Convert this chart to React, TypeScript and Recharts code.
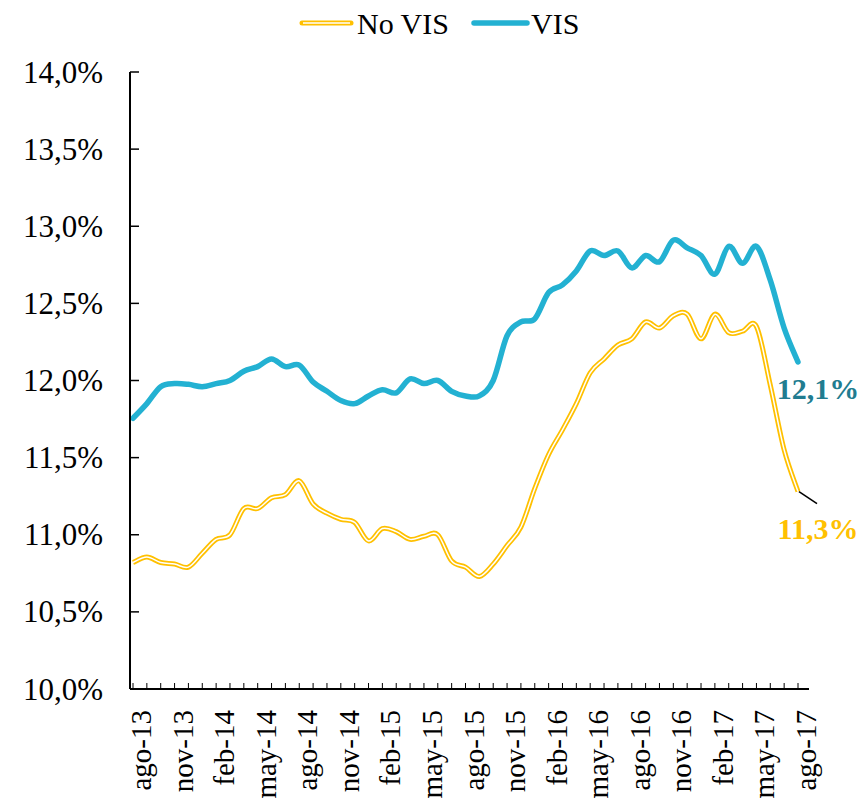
import React from 'react';
import { LineChart, Line, XAxis, YAxis } from 'recharts';

// meses (ago-13 .. ago-17)
const MONTHS = [
  'ago-13', 'sep-13', 'oct-13', 'nov-13', 'dic-13', 'ene-14', 'feb-14', 'mar-14', 'abr-14', 'may-14',
  'jun-14', 'jul-14', 'ago-14', 'sep-14', 'oct-14', 'nov-14', 'dic-14', 'ene-15', 'feb-15', 'mar-15',
  'abr-15', 'may-15', 'jun-15', 'jul-15', 'ago-15', 'sep-15', 'oct-15', 'nov-15', 'dic-15', 'ene-16',
  'feb-16', 'mar-16', 'abr-16', 'may-16', 'jun-16', 'jul-16', 'ago-16', 'sep-16', 'oct-16', 'nov-16',
  'dic-16', 'ene-17', 'feb-17', 'mar-17', 'abr-17', 'may-17', 'jun-17', 'jul-17', 'ago-17',
];

const NO_VIS = [
  10.82, 10.855, 10.82, 10.81, 10.79, 10.88, 10.97, 11.0, 11.17, 11.17,
  11.24, 11.26, 11.35, 11.2, 11.14, 11.1, 11.08, 10.96, 11.04, 11.02,
  10.97, 10.99, 11.0, 10.83, 10.79, 10.73, 10.81, 10.93, 11.05, 11.3,
  11.52, 11.68, 11.85, 12.05, 12.14, 12.23, 12.27, 12.38, 12.34, 12.42,
  12.43, 12.27, 12.43, 12.31, 12.32, 12.35, 11.97, 11.55, 11.28,
];

const VIS = [
  11.755, 11.85, 11.96, 11.98, 11.975, 11.96, 11.98, 12.0, 12.06, 12.09,
  12.14, 12.09, 12.1, 11.99, 11.93, 11.87, 11.85, 11.9, 11.94, 11.92,
  12.01, 11.98, 12.0, 11.93, 11.9, 11.9, 12.0, 12.29, 12.38, 12.4,
  12.57, 12.62, 12.71, 12.84, 12.81, 12.84, 12.73, 12.81, 12.77, 12.91,
  12.86, 12.81, 12.69, 12.87, 12.76, 12.87, 12.65, 12.34, 12.12,
];

const Y_TICKS = [10, 10.5, 11, 11.5, 12, 12.5, 13, 13.5, 14];

const data = MONTHS.map((m, i) => ({ mes: m, noVis: NO_VIS[i], vis: VIS[i] }));

const FONT = '"Liberation Serif", serif';
const BLUE = '#23B1D2';
const GOLD = '#FFC000';
const TEAL = '#217C90';
const LAST = MONTHS.length - 1;

const fmt = (v: number) => v.toFixed(1).replace('.', ',') + '%';

// suavizado tipo Excel (Catmull-Rom)
const smooth = (ctx: any) => {
  let pts: number[][] = [];
  return {
    areaStart() {},
    areaEnd() {},
    lineStart() {
      pts = [];
    },
    point(x: number, y: number) {
      pts.push([x, y]);
    },
    lineEnd() {
      const n = pts.length;
      if (!n) return;
      ctx.moveTo(pts[0][0], pts[0][1]);
      for (let i = 0; i < n - 1; i++) {
        const p0 = pts[Math.max(i - 1, 0)];
        const p1 = pts[i];
        const p2 = pts[i + 1];
        const p3 = pts[Math.min(i + 2, n - 1)];
        ctx.bezierCurveTo(
          p1[0] + (p2[0] - p0[0]) / 6,
          p1[1] + (p2[1] - p0[1]) / 6,
          p2[0] - (p3[0] - p1[0]) / 6,
          p2[1] - (p3[1] - p1[1]) / 6,
          p2[0],
          p2[1]
        );
      }
    },
  };
};

const YTick = (props: any) => {
  const { x, y, payload } = props;
  return (
    <g>
      <line x1={x} x2={x + 9} y1={y} y2={y} stroke="#000" strokeWidth={1.5} />
      <text x={x - 27} y={y} textAnchor="end" dominantBaseline="central" fontFamily={FONT} fontSize={31} fill="#000">
        {fmt(payload.value)}
      </text>
    </g>
  );
};

const XTick = (props: any) => {
  const { x, y, payload, index } = props;
  return (
    <g>
      <line x1={x} x2={x} y1={y} y2={y - 6} stroke="#000" strokeWidth={1} />
      {index % 3 === 0 && (
        <text
          transform={`translate(${x + 18},${y + 21}) rotate(-90)`}
          textAnchor="end"
          fontFamily={FONT}
          fontSize={29}
          fill="#000"
        >
          {payload.value}
        </text>
      )}
    </g>
  );
};

const visLabel = (p: any) => {
  if (p.index !== LAST) return null;
  return (
    <text x={p.x + 20} y={p.y + 27} textAnchor="middle" dominantBaseline="central" fontFamily={FONT} fontSize={30} fontWeight="bold" fill={TEAL}>
      {fmt(p.value)}
    </text>
  );
};

const noVisLabel = (p: any) => {
  if (p.index !== LAST) return null;
  return (
    <g>
      <line x1={p.x + 1} y1={p.y} x2={p.x + 19} y2={p.y + 12} stroke="#000" strokeWidth={1.5} />
      <text x={p.x + 20} y={p.y + 37} textAnchor="middle" dominantBaseline="central" fontFamily={FONT} fontSize={30} fontWeight="bold" fill={GOLD}>
        {fmt(p.value)}
      </text>
    </g>
  );
};

const LegendBox = () => (
  <svg width={864} height={46} style={{ position: 'absolute', left: 0, top: 0 }}>
    <line x1={302} x2={351} y1={23} y2={23} stroke={GOLD} strokeWidth={5} strokeLinecap="round" />
    <line x1={303} x2={350} y1={23} y2={23} stroke="#fff" strokeWidth={1.5} />
    <text x={357} y={23} dominantBaseline="central" fontFamily={FONT} fontSize={30} fill="#000">No VIS</text>
    <line x1={474} x2={527} y1={23} y2={23} stroke={BLUE} strokeWidth={5.5} strokeLinecap="round" />
    <text x={531} y={23} dominantBaseline="central" fontFamily={FONT} fontSize={30} fill="#000">VIS</text>
  </svg>
);

export default function App() {
  return (
    <div style={{ position: 'absolute', left: 0, top: 0, width: 864, height: 804, background: '#fff' }}>
      <LineChart width={864} height={804} data={data} margin={{ top: 72, right: 55, bottom: 5, left: 10 }}>
        <XAxis
          dataKey="mes"
          interval={0}
          height={110}
          tickLine={false}
          tickSize={0}
          tickMargin={0}
          padding={{ left: 3, right: 11 }}
          axisLine={{ stroke: '#000', strokeWidth: 2 }}
          tick={<XTick />}
        />
        <YAxis
          domain={[10, 14]}
          ticks={Y_TICKS}
          width={120}
          tickLine={false}
          tickSize={0}
          tickMargin={0}
          axisLine={{ stroke: '#000', strokeWidth: 2 }}
          tick={<YTick />}
        />
        <Line
          type={smooth as any}
          dataKey="noVis"
          stroke={GOLD}
          strokeWidth={5}
          dot={false}
          isAnimationActive={false}
          label={noVisLabel}
        />
        <Line type={smooth as any} dataKey="noVis" stroke="#fff" strokeWidth={1.5} dot={false} isAnimationActive={false} />
        <Line
          type={smooth as any}
          dataKey="vis"
          stroke={BLUE}
          strokeWidth={5.5}
          strokeLinecap="round"
          dot={false}
          isAnimationActive={false}
          label={visLabel}
        />
      </LineChart>
      <LegendBox />
    </div>
  );
}
